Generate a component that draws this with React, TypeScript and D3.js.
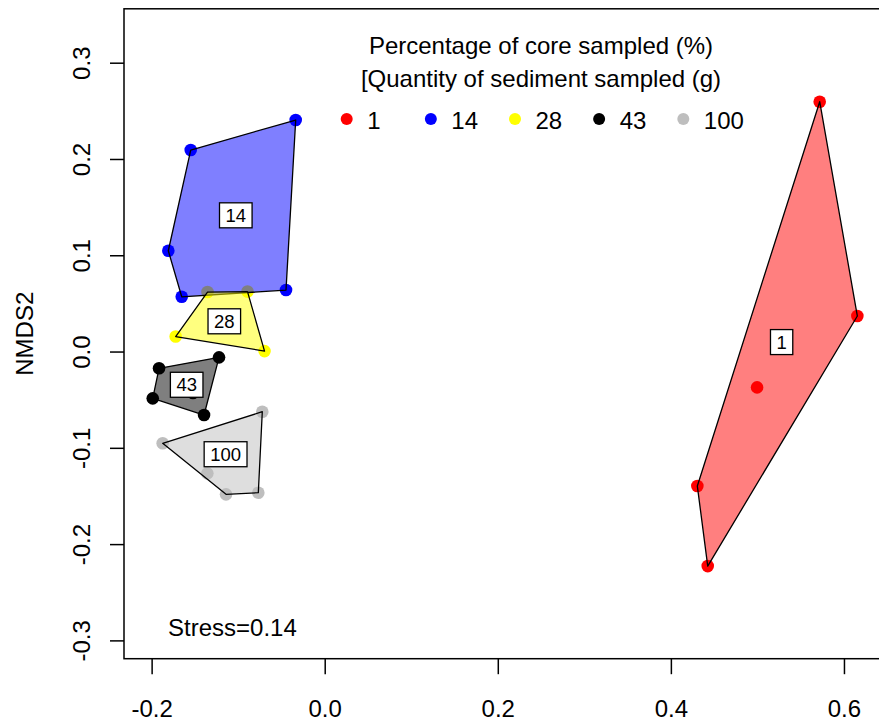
import React from "react";
import * as d3 from "d3";

// NMDS scores per sampling level (NMDS1, NMDS2)
const groups = ["1", "14", "28", "43", "100"];
const groupColors = ["#ff0000", "#0000ff", "#ffff00", "#000000", "#bebebe"];

const scores1: [number, number][] = [
  [0.5714, 0.26], [0.6149, 0.0374], [0.499, -0.0367], [0.43, -0.1392], [0.442, -0.2223],
];
const scores14: [number, number][] = [
  [-0.0341, 0.241], [-0.1554, 0.2098], [-0.1813, 0.1052], [-0.1658, 0.0574], [-0.0453, 0.0644],
];
const scores28: [number, number][] = [
  [-0.1728, 0.0161], [-0.0701, 0.001], [-0.136, 0.0623], [-0.0898, 0.0628],
];
const scores43: [number, number][] = [
  [-0.192, -0.0169], [-0.1227, -0.0055], [-0.1993, -0.0481], [-0.14, -0.0654], [-0.1528, -0.0426],
];
const scores100: [number, number][] = [
  [-0.1878, -0.0948], [-0.0727, -0.062], [-0.1146, -0.1478], [-0.0773, -0.1461], [-0.1362, -0.126],
];
const groupScores = [scores1, scores14, scores28, scores43, scores100];

const xTicks = [-0.2, 0.0, 0.2, 0.4, 0.6];
const yTicks = [-0.3, -0.2, -0.1, 0.0, 0.1, 0.2, 0.3];
const xLim: [number, number] = [-0.2325, 0.648];
const yLim: [number, number] = [-0.3185, 0.3565];

const legendTitle = ["Percentage of core sampled (%)", "[Quantity of sediment sampled (g)"];
const stressText = "Stress=0.14";
const yLabel = "NMDS2";

const FONT = "'Liberation Sans', Arial, Helvetica, sans-serif";

export default function App() {
  const W = 879;
  const H = 727;
  const x = d3.scaleLinear().domain(xLim).range([124, 886]);
  const y = d3.scaleLinear().domain(yLim).range([658.7, 8.8]);
  const [x0, x1] = x.range();
  const [yb, yt] = y.range();

  const hulls = groupScores.map((pts) => {
    const px = pts.map(([a, b]) => [x(a), y(b)] as [number, number]);
    const hull = d3.polygonHull(px) || px;
    const c = d3.polygonCentroid(hull);
    return { hull, c };
  });

  const line = d3.line();
  const legendX = d3.scaleLinear().domain([0, groups.length - 1]).range([346.7, 683.3]);

  return (
    <svg
      width={W}
      height={H}
      style={{ position: "absolute", left: 0, top: 0, background: "#fff" }}
      fontFamily={FONT}
    >
      <rect x={0} y={0} width={W} height={H} fill="#fff" />

      {/* points */}
      {groupScores.map((pts, gi) =>
        pts.map(([a, b], i) => (
          <circle key={`p${gi}-${i}`} cx={x(a)} cy={y(b)} r={6.3} fill={groupColors[gi]} />
        ))
      )}

      {/* convex hulls */}
      {hulls.map((h, gi) => (
        <path
          key={`h${gi}`}
          d={line(h.hull) + "Z"}
          fill={groupColors[gi]}
          fillOpacity={0.5}
          stroke="#000"
          strokeWidth={1.3}
          strokeLinejoin="round"
        />
      ))}

      {/* hull labels */}
      {hulls.map((h, gi) => {
        const tw = groups[gi].length * 0.556 * 18.5;
        const bw = tw + 12;
        const bh = 25;
        return (
          <g key={`l${gi}`}>
            <rect
              x={h.c[0] - bw / 2}
              y={h.c[1] - bh / 2}
              width={bw}
              height={bh}
              fill="#fff"
              stroke="#000"
              strokeWidth={1.3}
            />
            <text
              x={h.c[0]}
              y={h.c[1] + 6.6}
              textAnchor="middle"
              fontSize={18.5}
              fill="#000"
            >
              {groups[gi]}
            </text>
          </g>
        );
      })}

      {/* plot frame */}
      <rect x={x0} y={yt} width={x1 - x0} height={yb - yt} fill="none" stroke="#000" strokeWidth={1.5} />

      {/* x axis */}
      {xTicks.map((t) => (
        <g key={`xt${t}`}>
          <line x1={x(t)} x2={x(t)} y1={yb} y2={yb + 15.5} stroke="#000" strokeWidth={1.5} />
          <text x={x(t)} y={716.5} textAnchor="middle" fontSize={24} fill="#000">
            {d3.format(".1f")(t).replace("−", "-")}
          </text>
        </g>
      ))}

      {/* y axis */}
      {yTicks.map((t) => (
        <g key={`yt${t}`}>
          <line x1={x0} x2={x0 - 14} y1={y(t)} y2={y(t)} stroke="#000" strokeWidth={1.5} />
          <text
            transform={`translate(90,${y(t)}) rotate(-90)`}
            textAnchor="middle"
            fontSize={24}
            fill="#000"
          >
            {d3.format(".1f")(t).replace("−", "-")}
          </text>
        </g>
      ))}

      <text
        transform={`translate(33,${(yt + yb) / 2}) rotate(-90)`}
        textAnchor="middle"
        fontSize={24}
        fill="#000"
      >
        {yLabel}
      </text>

      {/* legend */}
      <text x={541} y={53.5} textAnchor="middle" fontSize={24} fill="#000">
        {legendTitle[0]}
      </text>
      <text x={541} y={86.5} textAnchor="middle" fontSize={24} fill="#000">
        {legendTitle[1]}
      </text>
      {groups.map((g, i) => (
        <g key={`lg${g}`}>
          <circle cx={legendX(i)} cy={119} r={6} fill={groupColors[i]} />
          <text x={legendX(i) + 20.5} y={128.5} fontSize={24} fill="#000">
            {g}
          </text>
        </g>
      ))}

      <text x={168} y={636} fontSize={24} fill="#000">
        {stressText}
      </text>
    </svg>
  );
}
